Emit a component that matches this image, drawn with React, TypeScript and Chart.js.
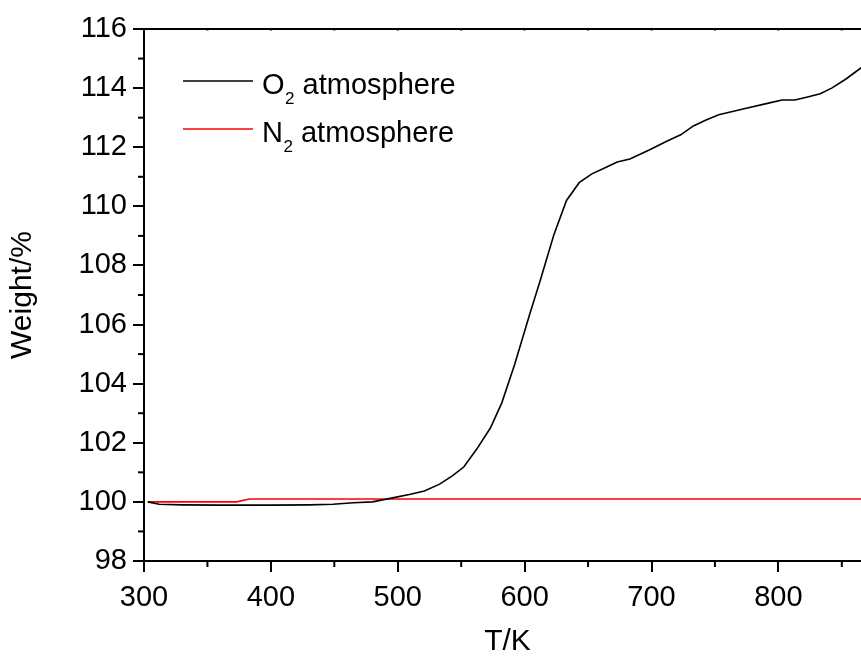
import React, { useEffect, useRef } from "react";
import { Chart, registerables } from "chart.js";

Chart.register(...registerables);

const o2Temp = [303, 312, 330, 360, 400, 430, 449, 465, 480, 494, 510, 521, 533, 543, 552, 562, 573, 582, 592, 604, 612, 623, 633, 643, 653, 663, 673, 683, 699, 712, 723, 733, 743, 753, 773, 793, 803, 813, 823, 833, 842, 853, 865, 873];
const o2Weight = [100.0, 99.92, 99.9, 99.89, 99.89, 99.9, 99.92, 99.97, 100.0, 100.12, 100.26, 100.37, 100.6, 100.88, 101.18, 101.77, 102.5, 103.35, 104.63, 106.35, 107.45, 109.03, 110.2, 110.8, 111.1, 111.3, 111.5, 111.6, 111.92, 112.2, 112.42, 112.72, 112.92, 113.1, 113.3, 113.5, 113.6, 113.6, 113.7, 113.81, 114.0, 114.3, 114.68, 114.9];

const n2Temp = [303, 373, 383, 873];
const n2Weight = [100.0, 100.0, 100.1, 100.1];

const xMin = 300;
const xMax = 873;
const yMin = 98;
const yMax = 116;
const xMinorTicks = [350, 450, 550, 650, 750, 850];
const yMinorTicks = [99, 101, 103, 105, 107, 109, 111, 113, 115];
const topTicks = [300, 350, 400, 450, 500, 550, 600, 650, 700, 750, 800, 850];

const legendItems = [
  { base: "O", sub: "2", rest: " atmosphere", color: "#000000" },
  { base: "N", sub: "2", rest: " atmosphere", color: "#ff0000" },
];

const FONT = "'Liberation Sans', Arial, sans-serif";

const framePlugin = {
  id: "framePlugin",
  afterDraw(chart: any) {
    const ctx = chart.ctx;
    const { left, right, top, bottom } = chart.chartArea;
    const xs = chart.scales.x;
    const ys = chart.scales.y;
    ctx.save();
    ctx.strokeStyle = "#000";
    ctx.lineWidth = 2;
    ctx.beginPath();
    ctx.moveTo(left, top);
    ctx.lineTo(right, top);
    ctx.stroke();
    topTicks.forEach((v) => {
      const px = xs.getPixelForValue(v);
      ctx.beginPath();
      ctx.moveTo(px, top);
      ctx.lineTo(px, top + 1.5);
      ctx.stroke();
    });
    xMinorTicks.forEach((v) => {
      const px = xs.getPixelForValue(v);
      ctx.beginPath();
      ctx.moveTo(px, bottom);
      ctx.lineTo(px, bottom + 6);
      ctx.stroke();
    });
    yMinorTicks.forEach((v) => {
      const py = ys.getPixelForValue(v);
      ctx.beginPath();
      ctx.moveTo(left, py);
      ctx.lineTo(left - 6, py);
      ctx.stroke();
    });
    const lineX0 = 183;
    const lineX1 = 253;
    const rowY = [81, 129];
    legendItems.forEach((it, i) => {
      const y = rowY[i];
      ctx.strokeStyle = it.color;
      ctx.lineWidth = 1.5;
      ctx.beginPath();
      ctx.moveTo(lineX0, y);
      ctx.lineTo(lineX1, y);
      ctx.stroke();
      ctx.fillStyle = "#000";
      ctx.textBaseline = "alphabetic";
      ctx.textAlign = "left";
      const baseY = y + 12.6;
      let x = 262;
      ctx.font = `29px ${FONT}`;
      ctx.fillText(it.base, x, baseY);
      x += ctx.measureText(it.base).width;
      ctx.font = `17px ${FONT}`;
      ctx.fillText(it.sub, x + 0.5, baseY + 10);
      x += ctx.measureText(it.sub).width + 0.5;
      ctx.font = `29px ${FONT}`;
      ctx.fillText(it.rest, x, baseY);
    });
    ctx.restore();
  },
};

export default function App() {
  const canvasRef = useRef<HTMLCanvasElement>(null);

  useEffect(() => {
    const canvas = canvasRef.current;
    if (!canvas) return;
    const chart = new Chart(canvas, {
      type: "line",
      data: {
        datasets: [
          {
            label: "O2 atmosphere",
            data: o2Temp.map((t, i) => ({ x: t, y: o2Weight[i] })),
            borderColor: "#000000",
            borderWidth: 1.6,
            pointRadius: 0,
            tension: 0,
            fill: false,
          },
          {
            label: "N2 atmosphere",
            data: n2Temp.map((t, i) => ({ x: t, y: n2Weight[i] })),
            borderColor: "#ff0000",
            borderWidth: 1.6,
            pointRadius: 0,
            tension: 0,
            fill: false,
          },
        ],
      },
      options: {
        animation: false,
        responsive: false,
        devicePixelRatio: 1,
        layout: { padding: { top: 29, left: 0, right: 1, bottom: 0 } },
        plugins: {
          legend: { display: false },
          tooltip: { enabled: false },
        },
        scales: {
          x: {
            type: "linear",
            min: xMin,
            max: xMax,
            afterFit: (scale: any) => {
              scale.height = 96;
            },
            afterBuildTicks: (scale: any) => {
              scale.ticks = scale.ticks.filter((t: any) => t.value % 100 === 0);
            },
            ticks: {
              stepSize: 100,
              color: "#000",
              padding: 9,
              maxRotation: 0,
              font: { family: FONT, size: 29 },
            },
            grid: {
              display: true,
              drawOnChartArea: false,
              drawTicks: true,
              tickLength: 11,
              color: "#000",
              lineWidth: 2,
            },
            border: { display: true, color: "#000", width: 2 },
            title: {
              display: true,
              text: "T/K",
              color: "#000",
              font: { family: FONT, size: 30, lineHeight: 1 },
              padding: { top: 0, bottom: 0 },
            },
          },
          y: {
            type: "linear",
            min: yMin,
            max: yMax,
            afterFit: (scale: any) => {
              scale.width = 144;
            },
            ticks: {
              stepSize: 2,
              color: "#000",
              padding: 6,
              font: { family: FONT, size: 29 },
            },
            grid: {
              display: true,
              drawOnChartArea: false,
              drawTicks: true,
              tickLength: 11,
              color: "#000",
              lineWidth: 2,
            },
            border: { display: true, color: "#000", width: 2 },
            title: {
              display: true,
              text: "Weight/%",
              color: "#000",
              font: { family: FONT, size: 30, lineHeight: 1 },
              padding: { top: 8, bottom: 0 },
            },
          },
        },
      },
      plugins: [framePlugin],
    } as any);
    return () => chart.destroy();
  }, []);

  return (
    <div
      style={{
        position: "fixed",
        left: 0,
        top: 0,
        width: 861,
        height: 657,
        overflow: "hidden",
        background: "#fff",
      }}
    >
      <canvas ref={canvasRef} width={872} height={657} style={{ width: 872, height: 657, display: "block" }} />
    </div>
  );
}
